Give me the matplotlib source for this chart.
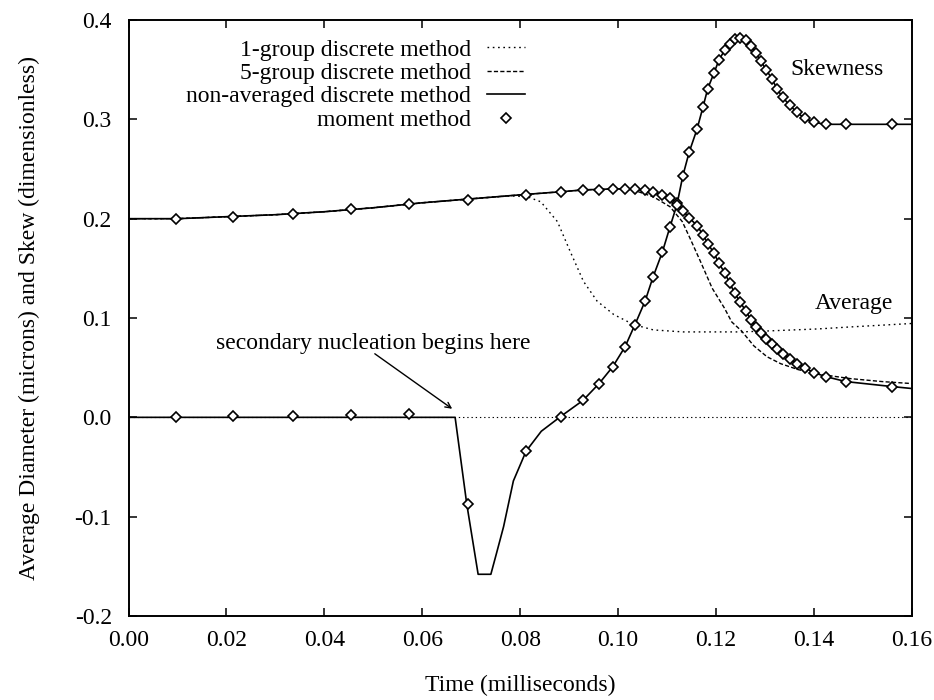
import matplotlib
matplotlib.use("Agg")
import matplotlib.pyplot as plt

plt.rcParams['font.family'] = ['Liberation Serif', 'DejaVu Serif']
plt.rcParams['axes.unicode_minus'] = False

# moment method points (shared times)
t_mom = [0.0097, 0.0213, 0.0336, 0.0454, 0.0573, 0.0693, 0.0812, 0.0883, 0.0928, 0.0961,
         0.0989, 0.1014, 0.1034, 0.1055, 0.1071, 0.1090, 0.1106, 0.1120, 0.1132, 0.1145,
         0.1161, 0.1173, 0.1183, 0.1196, 0.1206, 0.1218, 0.1228, 0.1238, 0.1249, 0.1261,
         0.1271, 0.1281, 0.1291, 0.1302, 0.1314, 0.1324, 0.1336, 0.1351, 0.1365, 0.1381,
         0.1400, 0.1424, 0.1465, 0.1559]
avg_mom = [0.200, 0.202, 0.205, 0.210, 0.215, 0.219, 0.224, 0.227, 0.229, 0.229,
           0.230, 0.230, 0.230, 0.229, 0.227, 0.224, 0.221, 0.216, 0.208, 0.201,
           0.193, 0.184, 0.175, 0.165, 0.155, 0.145, 0.135, 0.125, 0.116, 0.107,
           0.098, 0.091, 0.085, 0.079, 0.074, 0.069, 0.064, 0.059, 0.054, 0.050,
           0.045, 0.041, 0.036, 0.031]
skew_mom = [0.000, 0.001, 0.001, 0.002, 0.003, -0.087, -0.034, 0.000, 0.017, 0.034,
            0.051, 0.071, 0.093, 0.117, 0.141, 0.166, 0.192, 0.214, 0.243, 0.267,
            0.290, 0.312, 0.331, 0.347, 0.360, 0.370, 0.376, 0.381, 0.382, 0.380,
            0.374, 0.367, 0.359, 0.350, 0.341, 0.331, 0.322, 0.314, 0.307, 0.301,
            0.297, 0.295, 0.295, 0.295]

# non-averaged discrete method
t_avg = [0.000, 0.010, 0.020, 0.030, 0.040, 0.050, 0.060, 0.070, 0.080, 0.088,
         0.093, 0.099, 0.103, 0.107, 0.110, 0.1120, 0.1132, 0.1145, 0.1161, 0.1173,
         0.1183, 0.1196, 0.1206, 0.1218, 0.1228, 0.1238, 0.1249, 0.1261, 0.1271, 0.1281,
         0.1291, 0.1302, 0.1314, 0.1324, 0.1336, 0.1351, 0.1365, 0.1381, 0.1400, 0.1424,
         0.1465, 0.1559, 0.1600]
avg_na = [0.200, 0.200, 0.202, 0.204, 0.207, 0.211, 0.216, 0.220, 0.224, 0.227,
          0.229, 0.230, 0.230, 0.227, 0.222, 0.216, 0.208, 0.201, 0.193, 0.184,
          0.175, 0.165, 0.155, 0.145, 0.135, 0.125, 0.116, 0.107, 0.098, 0.091,
          0.085, 0.079, 0.074, 0.069, 0.064, 0.059, 0.054, 0.050, 0.045, 0.041,
          0.036, 0.031, 0.029]

t_skew = [0.000, 0.0667, 0.0691, 0.0714, 0.0740, 0.0752, 0.0766, 0.0786, 0.0812, 0.0843,
          0.0883, 0.0928, 0.0961, 0.0989, 0.1014, 0.1034, 0.1055, 0.1071, 0.1090, 0.1106,
          0.1120, 0.1132, 0.1145, 0.1161, 0.1173, 0.1183, 0.1196, 0.1206, 0.1218, 0.1228,
          0.1238, 0.1249, 0.1261, 0.1271, 0.1281, 0.1291, 0.1302, 0.1314, 0.1324, 0.1336,
          0.1351, 0.1365, 0.1381, 0.1400, 0.1424, 0.1465, 0.1559, 0.1600]
skew_na = [0.000, 0.000, -0.088, -0.158, -0.158, -0.136, -0.110, -0.064, -0.034, -0.014,
           0.001, 0.017, 0.034, 0.051, 0.071, 0.093, 0.117, 0.141, 0.166, 0.192,
           0.214, 0.243, 0.267, 0.290, 0.312, 0.331, 0.347, 0.360, 0.370, 0.376,
           0.381, 0.382, 0.380, 0.374, 0.367, 0.359, 0.350, 0.341, 0.331, 0.322,
           0.314, 0.307, 0.301, 0.297, 0.295, 0.295, 0.295, 0.295]

# 1-group discrete method (average diameter)
t_g1 = [0.000, 0.010, 0.020, 0.030, 0.040, 0.050, 0.060, 0.070, 0.078, 0.0815,
        0.0842, 0.0876, 0.0902, 0.0929, 0.0957, 0.0991, 0.1031, 0.1072, 0.1133, 0.1207,
        0.1250, 0.1307, 0.1408, 0.1474, 0.1600]
avg_g1 = [0.200, 0.200, 0.202, 0.204, 0.207, 0.211, 0.216, 0.220, 0.223, 0.222,
          0.217, 0.197, 0.167, 0.137, 0.117, 0.1035, 0.0935, 0.088, 0.086, 0.086,
          0.086, 0.087, 0.089, 0.091, 0.0945]

# 5-group discrete method (average diameter)
t_g5 = [0.000, 0.010, 0.020, 0.030, 0.040, 0.050, 0.060, 0.070, 0.080, 0.088,
        0.093, 0.099, 0.103, 0.1072, 0.1106, 0.1131, 0.1147, 0.1168, 0.1192, 0.1217,
        0.1232, 0.1252, 0.1277, 0.1304, 0.1332, 0.1368, 0.1403, 0.1474, 0.1539, 0.1600]
avg_g5 = [0.200, 0.200, 0.202, 0.204, 0.207, 0.211, 0.216, 0.220, 0.224, 0.227,
          0.229, 0.230, 0.229, 0.222, 0.212, 0.197, 0.180, 0.157, 0.130, 0.110,
          0.096, 0.087, 0.072, 0.061, 0.054, 0.048, 0.044, 0.039, 0.036, 0.034]

fs = 17
fig = plt.figure(figsize=(9.34, 7.0), dpi=100)
ax = fig.add_axes([0.1376, 0.12, 0.8388, 0.8514])

dot = (1.2, 2.6)
dash = (3.0, 1.6)
mk = dict(ls='none', marker='D', ms=4.8, mfc='white', mec='black', mew=1.2)

ax.axhline(0, color='black', lw=0.8, dashes=dot)
ax.plot(t_g1, avg_g1, color='black', lw=1.0, dashes=dot, label='1-group discrete method')
ax.plot(t_g5, avg_g5, color='black', lw=1.0, dashes=dash, label='5-group discrete method')
ax.plot(t_avg, avg_na, color='black', lw=1.2, label='non-averaged discrete method')
ax.plot(t_skew, skew_na, color='black', lw=1.2)
ax.plot(t_mom, avg_mom, label='moment method', **mk)
ax.plot(t_mom, skew_mom, **mk)

ax.set_xlim(0, 0.16)
ax.set_ylim(-0.2, 0.4)
ax.set_xticks([0.00, 0.02, 0.04, 0.06, 0.08, 0.10, 0.12, 0.14, 0.16])
ax.set_yticks([-0.2, -0.1, 0.0, 0.1, 0.2, 0.3, 0.4])
ax.xaxis.set_major_formatter(matplotlib.ticker.FormatStrFormatter('%.2f'))
ax.yaxis.set_major_formatter(matplotlib.ticker.FormatStrFormatter('%.1f'))
ax.tick_params(direction='in', top=True, right=True, length=6, width=1.1, labelsize=fs)
ax.tick_params(axis='x', pad=10)
ax.tick_params(axis='y', pad=12)
for s in ax.spines.values():
    s.set_linewidth(1.4)

ax.set_xlabel('Time (milliseconds)', fontsize=fs)
ax.set_ylabel('Average Diameter (microns) and Skew (dimensionless)', fontsize=fs)
ax.xaxis.set_label_coords(0.5, -0.098)
ax.yaxis.set_label_coords(-0.113, 0.5)

ax.text(0.1351, 0.3497, 'Skewness', fontsize=fs, va='center', ha='left')
ax.text(0.1402, 0.1145, 'Average', fontsize=fs, va='center', ha='left')
ax.text(0.0499, 0.074, 'secondary nucleation begins here', fontsize=fs, va='center', ha='center')
ax.annotate('', xy=(0.0661, 0.0086), xytext=(0.0503, 0.064),
            arrowprops=dict(arrowstyle='->', lw=1.0, color='black', shrinkA=0, shrinkB=0))

ax.legend(loc='upper right', bbox_to_anchor=(0.506, 0.968), frameon=False, fontsize=fs,
          markerfirst=False, numpoints=1, handlelength=1.6, handletextpad=0.7,
          labelspacing=0.08, borderpad=0, borderaxespad=0)

fig.savefig('out.png', dpi=100)
